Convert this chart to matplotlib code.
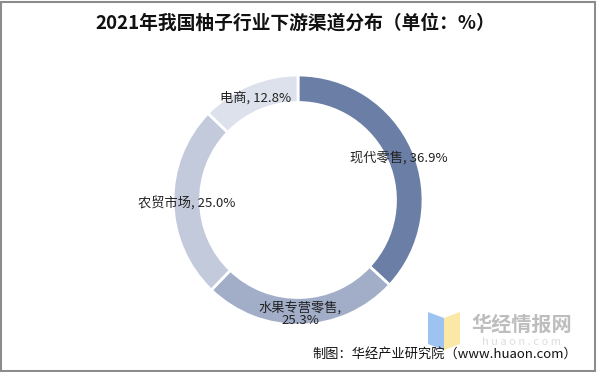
import matplotlib.pyplot as plt
from matplotlib.patches import Rectangle, Polygon

plt.rcParams['font.family'] = ['Noto Sans CJK SC', 'DejaVu Sans']

# data, clockwise from 12 o'clock
channels = ['现代零售', '水果专营零售', '农贸市场', '电商']
shares = [36.9, 25.3, 25.0, 12.8]
colors = ['#6a7ea6', '#a2adc8', '#c2cadb', '#dce1eb']
label_pos = [(0.81, 0.34), (0.02, -0.91), (-0.89, -0.02), (-0.34, 0.82)]
label_text = ['现代零售, 36.9%', '水果专营零售,\n25.3%', '农贸市场, 25.0%', '电商, 12.8%']

W, H = 597, 372
fig = plt.figure(figsize=(W / 100, H / 100), dpi=100)

# donut: center (298, 200) px, radius 125 px
cx, cy, r = 298, 200, 125
ax = fig.add_axes([(cx - r) / W, (H - cy - r) / H, 2 * r / W, 2 * r / H])
ax.pie(shares, colors=colors, startangle=90, counterclock=False, radius=1,
       wedgeprops=dict(width=0.22, edgecolor='white', linewidth=2))
ax.set_xlim(-1, 1)
ax.set_ylim(-1, 1)
ax.set_aspect('equal')
ax.axis('off')

for (x, y), t in zip(label_pos, label_text):
    ax.text(x, y, t, ha='center', va='center', fontsize=9.5, color='#222222',
            linespacing=1.0)

# title
fig.text(295 / W, 1 - 23 / H, '2021年我国柚子行业下游渠道分布（单位：%）',
         ha='center', va='center', fontsize=13.5, fontweight='bold', color='#111111')

# watermark logo
fig.patches.append(Polygon([(428 / W, 1 - 312 / H), (444 / W, 1 - 318 / H),
                            (444 / W, 1 - 350 / H), (428 / W, 1 - 344 / H)],
                           closed=True, transform=fig.transFigure,
                           facecolor='#9dc3f0', edgecolor='none'))
fig.patches.append(Polygon([(444 / W, 1 - 318 / H), (460 / W, 1 - 312 / H),
                            (460 / W, 1 - 344 / H), (444 / W, 1 - 350 / H)],
                           closed=True, transform=fig.transFigure,
                           facecolor='#fbe7a6', edgecolor='none'))
fig.text(522 / W, 1 - 324 / H, '华经情报网', ha='center', va='center',
         fontsize=14.5, fontweight='bold', color='#bdbdbd')
fig.text(522 / W, 1 - 342 / H, 'h u a o n . c o m', ha='center', va='center',
         fontsize=8, color='#dddddd')

# source
fig.text(577 / W, 1 - 354 / H, '制图：华经产业研究院（www.huaon.com）',
         ha='right', va='center', fontsize=9.5, color='#111111')

# frame
fig.patches.append(Rectangle((0.002, 0.003), 0.995, 0.992, transform=fig.transFigure,
                             fill=False, edgecolor='#8c8c8c', linewidth=1.5))

fig.savefig('out.png', dpi=100)
